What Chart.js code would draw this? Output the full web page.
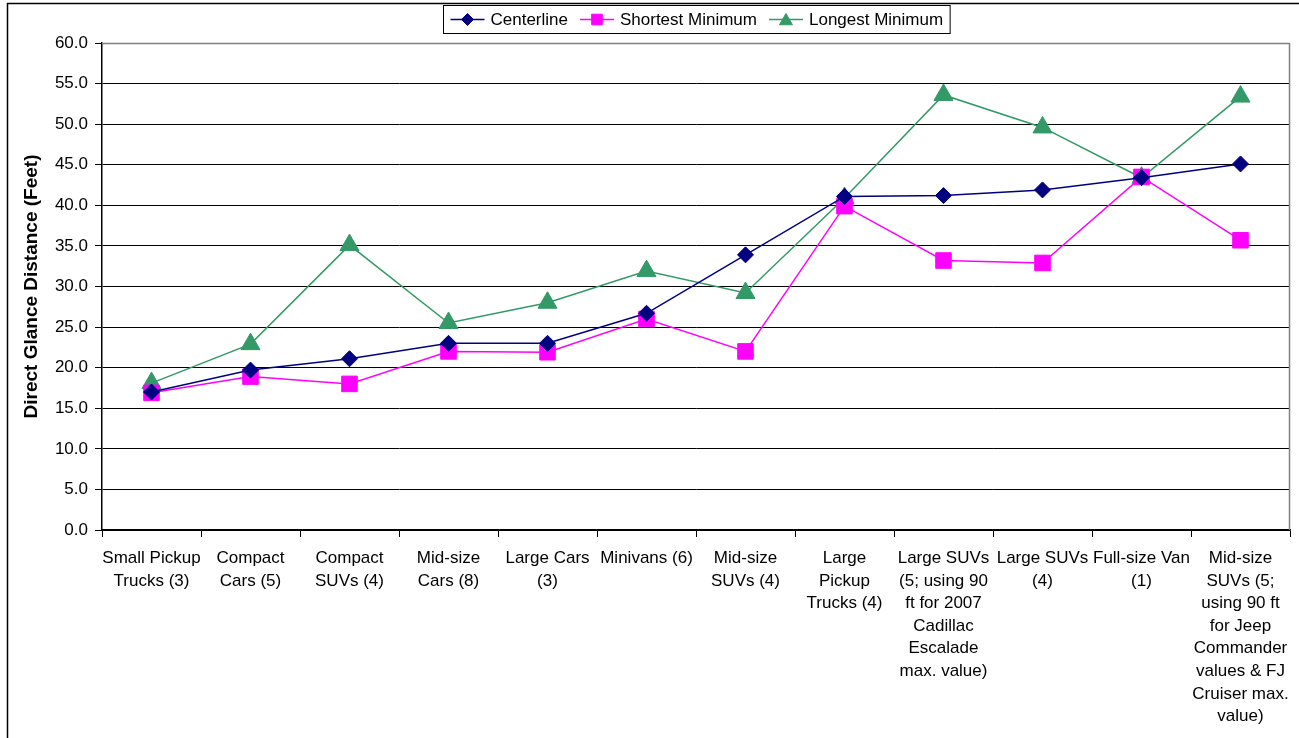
<!DOCTYPE html>
<html><head><meta charset="utf-8">
<script src="https://cdn.jsdelivr.net/npm/chart.js@4.4.1/dist/chart.umd.min.js"></script>
<style>html,body{margin:0;padding:0;background:#fff;}</style>
</head><body>
<canvas id="c" width="1299" height="738"></canvas>
<script>
const categories = [
  ["Small Pickup","Trucks (3)"],
  ["Compact","Cars (5)"],
  ["Compact","SUVs (4)"],
  ["Mid-size","Cars (8)"],
  ["Large Cars","(3)"],
  ["Minivans (6)"],
  ["Mid-size","SUVs (4)"],
  ["Large","Pickup","Trucks (4)"],
  ["Large SUVs","(5; using 90","ft for 2007","Cadillac","Escalade","max. value)"],
  ["Large SUVs","(4)"],
  ["Full-size Van","(1)"],
  ["Mid-size","SUVs (5;","using 90 ft","for Jeep","Commander","values & FJ","Cruiser max.","value)"]
];
const centerline = [17.0, 19.7, 21.1, 23.0, 23.0, 26.7, 33.9, 41.1, 41.2, 41.9, 43.4, 45.1];
const shortestMinimum = [16.9, 18.9, 18.0, 22.0, 21.9, 26.0, 22.0, 39.9, 33.2, 32.9, 43.5, 35.7];
const longestMinimum = [18.1, 22.9, 35.1, 25.5, 28.0, 31.9, 29.2, 40.9, 53.6, 49.6, 43.4, 53.4];
const yMin = 0, yMax = 60, yStep = 5;
const seriesNames = ["Centerline", "Shortest Minimum", "Longest Minimum"];
const yTitle = "Direct Glance Distance (Feet)";

const FONT = "'Liberation Sans', Arial, sans-serif";
const navy = "#000080", magenta = "#FF00FF", green = "#339966";

const legendMarker = [
  {style:'rectRot', r:6},
  {style:'rect', r:7.5},
  {style:'triangle', r:7.5}
];

const decor = {
  id: 'decor',
  afterDraw(chart) {
    const ctx = chart.ctx;
    const ca = chart.chartArea;
    ctx.save();
    // outer border (left + top)
    ctx.strokeStyle = '#000';
    ctx.lineWidth = 1.5;
    ctx.beginPath();
    ctx.moveTo(7.5, 738); ctx.lineTo(7.5, 3.5); ctx.lineTo(1299, 3.5);
    ctx.stroke();
    // plot area border top & right (gray)
    ctx.strokeStyle = '#808080';
    ctx.lineWidth = 1.5;
    ctx.beginPath();
    ctx.moveTo(ca.left, ca.top + 0.5); ctx.lineTo(ca.right - 0.5, ca.top + 0.5); ctx.lineTo(ca.right - 0.5, ca.bottom);
    ctx.stroke();
    // legend
    ctx.font = "17px " + FONT;
    ctx.textBaseline = 'middle';
    const lineLen = 34, gapA = 6, gapB = 12, padX = 7;
    const widths = chart.data.datasets.map(d => ctx.measureText(d.label).width);
    let total = padX * 2;
    widths.forEach((w, i) => { total += lineLen + gapA + w + (i < widths.length - 1 ? gapB : 0); });
    const cx = (ca.left + ca.right) / 2;
    const bx = Math.round(cx - total / 2) + 0.5, by = 5.5, bh = 28;
    ctx.fillStyle = '#fff';
    ctx.fillRect(bx, by, total, bh);
    ctx.strokeStyle = '#000';
    ctx.lineWidth = 1;
    ctx.strokeRect(bx, by, total, bh);
    let x = bx + padX;
    const y = by + bh / 2;
    chart.data.datasets.forEach((d, i) => {
      ctx.strokeStyle = d.borderColor;
      ctx.lineWidth = 1.5;
      ctx.beginPath(); ctx.moveTo(x, y); ctx.lineTo(x + lineLen, y); ctx.stroke();
      ctx.fillStyle = d.pointBackgroundColor;
      ctx.strokeStyle = d.pointBorderColor;
      ctx.lineWidth = 1;
      Chart.helpers.drawPoint(ctx, {pointStyle: legendMarker[i].style, radius: legendMarker[i].r, rotation: 0, borderWidth: 1}, x + lineLen / 2, y + (legendMarker[i].style === 'triangle' ? 1.5 : 0));
      x += lineLen + gapA;
      ctx.fillStyle = '#000';
      ctx.textAlign = 'left';
      ctx.fillText(d.label, x, y + 1);
      x += widths[i] + gapB;
    });
    ctx.restore();
  }
};

new Chart(document.getElementById('c'), {
  type: 'line',
  data: {
    labels: categories,
    datasets: [
      {label: seriesNames[0], data: centerline, borderColor: navy, backgroundColor: navy,
       pointBackgroundColor: navy, pointBorderColor: navy, pointStyle: 'rectRot', pointRadius: 8, borderWidth: 1.5, pointBorderWidth: 1},
      {label: seriesNames[1], data: shortestMinimum, borderColor: magenta, backgroundColor: magenta,
       pointBackgroundColor: magenta, pointBorderColor: magenta, pointStyle: 'rect', pointRadius: 11, borderWidth: 1.5, pointBorderWidth: 1},
      {label: seriesNames[2], data: longestMinimum, borderColor: green, backgroundColor: green,
       pointBackgroundColor: green, pointBorderColor: green, pointStyle: 'triangle', pointRadius: 11, borderWidth: 1.5, pointBorderWidth: 1}
    ]
  },
  options: {
    responsive: false,
    animation: false,
    devicePixelRatio: 1,
    layout: {autoPadding: false, padding: {top: 43, left: 8, right: 9, bottom: 0}},
    plugins: {legend: {display: false}, tooltip: {enabled: false}},
    elements: {line: {tension: 0}},
    scales: {
      x: {
        offset: true,
        grid: {offset: true, drawOnChartArea: false, tickLength: 7, color: '#000', lineWidth: 1},
        border: {color: '#000', width: 1.5},
        ticks: {color: '#000', font: {family: FONT, size: 17, lineHeight: 1.33}, maxRotation: 0, autoSkip: false, padding: 10},
        afterFit(s) { s.height = 208; s.paddingLeft = 0; s.paddingRight = 0; }
      },
      y: {
        min: yMin, max: yMax,
        grid: {color: '#000', lineWidth: 1, tickLength: 7},
        border: {color: '#000', width: 1.5},
        ticks: {stepSize: yStep, color: '#000', font: {family: FONT, size: 17}, padding: 7,
                callback: v => Number(v).toFixed(1)},
        title: {display: true, text: yTitle, color: '#000', font: {family: FONT, size: 19, weight: 'bold'}, padding: {top: 12, bottom: 0}},
        afterFit(s) { s.width = 94; }
      }
    }
  },
  plugins: [decor]
});
</script>
</body></html>
